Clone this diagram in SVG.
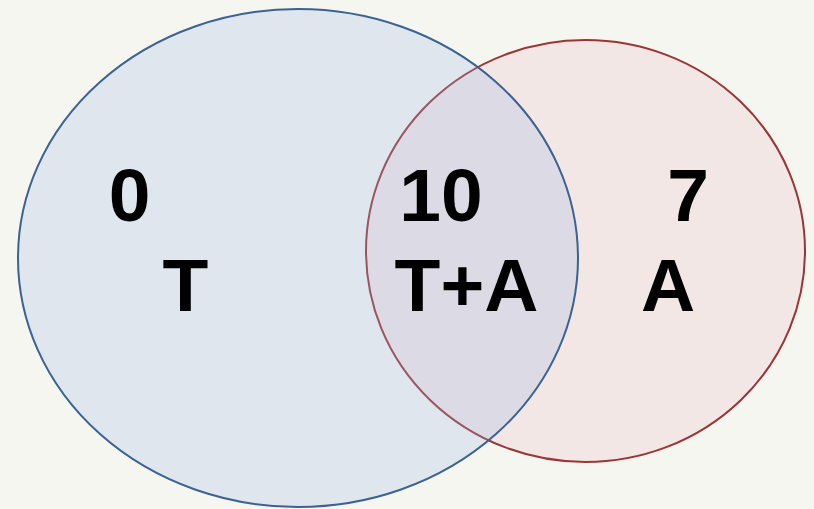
<svg xmlns="http://www.w3.org/2000/svg" width="814" height="509" viewBox="0 0 814 509">
  <style>
    .lbl { font-family: "Liberation Sans", Arial, sans-serif; font-weight: bold; font-size: 75px; fill: #000; text-anchor: middle; }
  </style>
  <rect width="814" height="509" fill="#f6f6f0"/>
  <!-- set A (drawn underneath) -->
  <g id="setA">
    <ellipse cx="585.5" cy="251" rx="219.5" ry="211" fill="#f2e7e4" stroke="#9b3535" stroke-width="2"/>
  </g>
  <!-- set T, translucent fill over A -->
  <g id="setT">
    <ellipse cx="298" cy="258" rx="280" ry="249" fill="#9bb6e6" fill-opacity="0.25" stroke="#3b6291" stroke-width="2"/>
  </g>
  <g id="labels">
    <text class="lbl" x="129.5" y="221">0</text>
    <text class="lbl" x="185.5" y="311">T</text>
    <text class="lbl" x="441" y="221">10</text>
    <text class="lbl" x="466.5" y="311">T+A</text>
    <text class="lbl" x="688" y="221">7</text>
    <text class="lbl" x="668" y="311">A</text>
  </g>
</svg>
